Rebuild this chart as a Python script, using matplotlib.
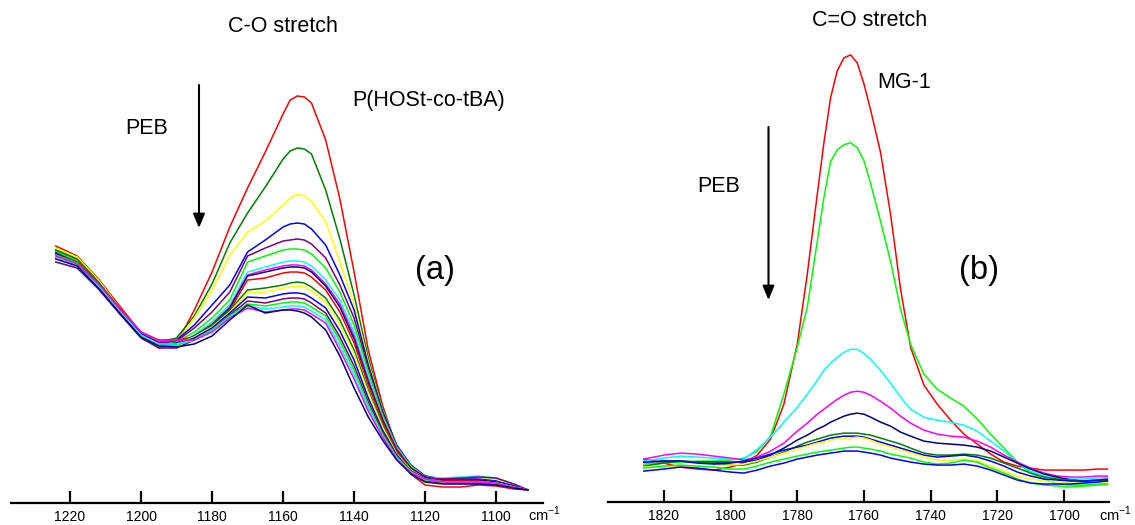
import numpy as np
import matplotlib
matplotlib.use("Agg")
import matplotlib.pyplot as plt
from matplotlib.patches import FancyArrowPatch

plt.rcParams['font.family'] = ['Liberation Sans', 'DejaVu Sans']

W, H = 1135, 525

# ---- (a) C-O stretch region, wavenumber grid (cm-1) ----
wn_a = [1224, 1218, 1212, 1206, 1200, 1195, 1190, 1185, 1180, 1175, 1170, 1165, 1160, 1158, 1156, 1154,
        1152, 1148, 1144, 1140, 1136, 1132, 1128, 1124, 1120, 1115, 1110, 1105, 1100, 1095, 1091]

# absorbance x 1000, one spectrum per PEB step (top = unexposed film)
a01 = [257, 247, 224, 197, 170, 155, 159, 193, 231, 276, 315, 351, 389, 403, 407, 406, 400, 363, 304, 231, 153, 98, 55, 29, 18, 16, 16, 18, 17, 14, 13]
a02 = [253, 244, 222, 195, 170, 161, 165, 187, 219, 260, 290, 316, 344, 352, 355, 354, 349, 313, 264, 208, 145, 95, 56, 35, 25, 22, 22, 23, 21, 17, 13]
a03 = [255, 246, 223, 195, 169, 158, 161, 185, 213, 248, 271, 282, 298, 305, 309, 307, 302, 281, 241, 198, 141, 93, 57, 37, 26, 23, 24, 26, 23, 18, 13]
a04 = [251, 242, 220, 194, 169, 159, 163, 178, 198, 218, 251, 263, 276, 279, 280, 279, 274, 258, 228, 193, 138, 92, 58, 38, 27, 24, 24, 24, 22, 17, 13]
a05 = [250, 241, 219, 193, 170, 160, 162, 175, 191, 211, 247, 255, 262, 263, 264, 263, 259, 245, 218, 185, 135, 90, 57, 37, 27, 23, 23, 23, 21, 17, 13]
a06 = [252, 242, 220, 194, 167, 157, 161, 171, 185, 203, 241, 247, 253, 254, 254, 253, 249, 235, 211, 178, 131, 88, 56, 37, 26, 23, 23, 23, 21, 17, 13]
a07 = [241, 235, 215, 190, 165, 156, 157, 168, 181, 198, 231, 236, 241, 242, 242, 241, 237, 223, 203, 171, 126, 85, 55, 36, 26, 25, 26, 27, 25, 19, 13]
a08 = [245, 238, 217, 191, 167, 157, 158, 167, 179, 196, 228, 233, 237, 238, 238, 237, 233, 219, 199, 167, 123, 84, 54, 35, 25, 22, 22, 22, 20, 16, 13]
a09 = [248, 240, 218, 192, 168, 158, 160, 167, 178, 195, 227, 231, 235, 236, 236, 235, 231, 217, 196, 164, 121, 83, 53, 35, 26, 23, 23, 23, 21, 17, 13]
a10 = [249, 241, 220, 195, 171, 163, 163, 166, 177, 193, 223, 225, 230, 231, 231, 230, 226, 213, 191, 160, 118, 81, 52, 34, 25, 22, 22, 22, 20, 16, 13]
a11 = [253, 244, 221, 194, 167, 156, 159, 167, 178, 193, 213, 215, 218, 220, 221, 220, 216, 205, 183, 153, 113, 78, 50, 32, 22, 20, 20, 20, 19, 15, 13]
a12 = [247, 239, 218, 192, 168, 159, 159, 166, 176, 191, 210, 211, 215, 216, 217, 216, 212, 201, 178, 149, 110, 76, 49, 33, 24, 21, 21, 21, 20, 16, 13]
a13 = [249, 240, 218, 193, 169, 159, 159, 165, 175, 190, 206, 205, 209, 210, 210, 209, 205, 195, 172, 143, 105, 73, 48, 32, 24, 21, 21, 21, 20, 16, 13]
a14 = [241, 235, 214, 189, 165, 155, 155, 163, 173, 188, 202, 200, 204, 205, 205, 204, 200, 190, 166, 137, 101, 71, 47, 32, 25, 24, 25, 26, 25, 19, 13]
a15 = [248, 240, 218, 192, 167, 157, 158, 163, 173, 187, 199, 197, 200, 201, 201, 200, 196, 187, 162, 133, 98, 69, 46, 31, 23, 21, 21, 21, 20, 16, 13]
a16 = [245, 238, 217, 192, 168, 159, 159, 163, 172, 186, 197, 194, 196, 197, 197, 196, 192, 183, 157, 128, 95, 67, 45, 31, 24, 21, 21, 21, 20, 16, 13]
a17 = [247, 239, 219, 194, 171, 162, 163, 163, 171, 185, 195, 191, 193, 194, 194, 193, 189, 180, 153, 124, 92, 66, 44, 30, 24, 21, 21, 21, 20, 16, 13]
a18 = [244, 237, 215, 190, 166, 157, 156, 159, 167, 183, 198, 190, 193, 193, 192, 190, 186, 173, 147, 115, 86, 63, 43, 29, 21, 19, 19, 19, 18, 15, 13]

# ---- (b) C=O stretch region ----
wn_b = [1826, 1820, 1815, 1810, 1805, 1800, 1796, 1792, 1788, 1784, 1780, 1777, 1774, 1772, 1770, 1768,
        1766, 1764, 1762, 1760, 1758, 1755, 1752, 1749, 1746, 1742, 1738, 1734, 1730, 1726, 1722, 1718,
        1714, 1710, 1706, 1702, 1698, 1694, 1690, 1687]

b01 = [43, 39, 35, 33, 32, 35, 39, 47, 63, 98, 158, 228, 308, 360, 405, 432, 445, 448, 440, 419, 393, 350, 288, 213,
       155, 117, 98, 82, 68, 58, 48, 40, 36, 34, 32, 32, 32, 32, 33, 33]
b02 = [38, 39, 40, 41, 41, 42, 44, 51, 66, 108, 155, 195, 261, 305, 341, 353, 358, 360, 355, 342, 319, 281, 241, 193,
       158, 128, 113, 104, 96, 83, 68, 54, 40, 29, 23, 18, 17, 17, 18, 18]
b03 = [41, 44, 46, 45, 44, 43, 43, 53, 65, 80, 95, 108, 122, 132, 139, 145, 150, 153, 153, 149, 143, 132, 119, 105,
       93, 85, 82, 80, 77, 71, 61, 51, 39, 31, 26, 24, 23, 23, 24, 25]
b04 = [43, 47, 49, 48, 46, 44, 42, 45, 51, 59, 71, 79, 88, 93, 98, 103, 107, 110, 111, 110, 107, 101, 94, 86,
       79, 72, 68, 66, 65, 61, 55, 47, 40, 34, 29, 26, 25, 25, 26, 26]
b05 = [40, 41, 41, 40, 40, 40, 40, 42, 47, 54, 62, 67, 73, 76, 80, 83, 86, 88, 89, 88, 85, 80, 76, 70,
       66, 61, 59, 58, 57, 55, 51, 45, 39, 33, 28, 25, 22, 21, 21, 21]
b06 = [36, 39, 41, 40, 39, 37, 37, 40, 45, 50, 56, 60, 63, 65, 67, 68, 69, 69, 69, 68, 67, 64, 61, 58,
       54, 49, 47, 47, 48, 47, 44, 39, 34, 29, 25, 23, 22, 21, 22, 22]
b07 = [40, 41, 41, 39, 38, 39, 41, 44, 48, 52, 55, 57, 60, 62, 64, 65, 66, 66, 66, 65, 63, 60, 57, 54,
       51, 47, 45, 46, 47, 45, 41, 36, 30, 26, 23, 22, 21, 21, 22, 23]
b08 = [35, 35, 35, 35, 36, 37, 38, 41, 45, 49, 53, 56, 59, 60, 62, 63, 64, 64, 65, 64, 62, 58, 55, 52,
       49, 45, 42, 42, 43, 41, 36, 31, 26, 23, 21, 20, 19, 19, 20, 20]
b09 = [34, 36, 37, 36, 35, 33, 33, 36, 40, 43, 46, 48, 50, 51, 52, 53, 54, 55, 55, 54, 53, 51, 48, 46,
       44, 40, 38, 39, 42, 40, 34, 29, 23, 19, 17, 16, 15, 16, 17, 18]
b10 = [31, 33, 35, 34, 32, 30, 29, 32, 36, 39, 43, 45, 47, 48, 49, 50, 51, 51, 51, 50, 49, 47, 44, 42,
       40, 38, 37, 37, 38, 36, 32, 27, 22, 19, 18, 18, 18, 19, 20, 21]

cycle = ['#ff0000', '#008000', '#ffff00', '#0000ff', '#800080',
         '#00ff00', '#00ffff', '#ff00ff', '#000080']
spectra_a = [a01, a02, a03, a04, a05, a06, a07, a08, a09,
             a10, a11, a12, a13, a14, a15, a16, a17, a18]
spectra_b = [b01, b02, b03, b04, b05, b06, b07, b08, b09, b10]
colors_b = ['#ff0000', '#00ff00', '#00ffff', '#ff00ff', '#000080',
            '#008000', '#0000ff', '#ffff00', '#00ff00', '#0000ff']


def px_rect(x0, x1, y_axis):
    # axes rectangle from pixel extents; top of the axes = top of figure
    return [x0 / W, (H - y_axis) / H, (x1 - x0) / W, y_axis / H]


def style_axis(ax, xlim, ticks):
    ax.set_xlim(*xlim)
    ax.set_ylim(0, 0.503)
    for s in ['left', 'right', 'top']:
        ax.spines[s].set_visible(False)
    ax.spines['bottom'].set_linewidth(1.6)
    ax.set_yticks([])
    ax.set_xticks(ticks)
    ax.set_xticklabels([str(t) for t in ticks])
    ax.tick_params(axis='x', direction='in', length=8.5, width=1.6,
                   labelsize=10, pad=5)
    ax.patch.set_alpha(0)


fig = plt.figure(figsize=(W / 100, H / 100), dpi=100)

ax1 = fig.add_axes(px_rect(10.7, 543, 503))
for i, spec in enumerate(spectra_a):
    ax1.plot(wn_a, np.array(spec) / 1000, color=cycle[i % 9], lw=1.1)
style_axis(ax1, (1236.7, 1086.8), list(range(1220, 1099, -20)))

ax2 = fig.add_axes(px_rect(607.8, 1108.7, 502))
for spec, c in zip(spectra_b, colors_b):
    ax2.plot(wn_b, np.array(spec) / 1000, color=c, lw=1.1)
style_axis(ax2, (1836.8, 1686.6), list(range(1820, 1699, -20)))


def ftext(x, y, s, size, ha='left'):
    fig.text(x / W, 1 - y / H, s, fontsize=size, ha=ha, va='center')


def farrow(x, y0, y1):
    fig.add_artist(FancyArrowPatch((x / W, 1 - y0 / H), (x / W, 1 - y1 / H),
                                   transform=fig.transFigure,
                                   arrowstyle='-|>,head_length=0.6,head_width=0.25',
                                   mutation_scale=14, lw=1.5, color='black',
                                   shrinkA=0, shrinkB=0))


unit = 'cm$^{\\mathregular{-1}}$'

ftext(283, 27, 'C-O stretch', 15.5, ha='center')
ftext(352, 101, 'P(HOSt-co-tBA)', 15.5)
ftext(125, 128, 'PEB', 15.5)
farrow(199, 85, 228)
ftext(415, 271, '(a)', 23.5)
ftext(528, 514, unit, 10.5)

ftext(870, 21, 'C=O stretch', 15.5, ha='center')
ftext(877, 82, 'MG-1', 15.5)
ftext(697, 187, 'PEB', 15.5)
farrow(768.5, 127, 300)
ftext(959, 271, '(b)', 23.5)
ftext(1099, 514, unit, 10.5)

fig.savefig('out.png', dpi=100)
